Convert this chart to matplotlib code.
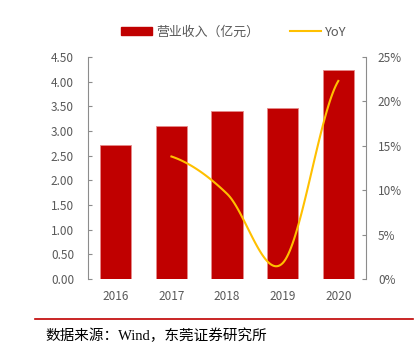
import numpy as np
import matplotlib.pyplot as plt
from matplotlib.patches import Patch
from matplotlib.lines import Line2D

plt.rcParams['font.family'] = ['Noto Sans CJK SC', 'DejaVu Sans']

years = ['2016', '2017', '2018', '2019', '2020']
revenue = [2.72, 3.10, 3.40, 3.46, 4.23]
yoy_years = ['2017', '2018', '2019', '2020']
yoy = [13.8, 9.6, 1.8, 22.3]

gray = '#595959'
axis_gray = '#8c8c8c'
red = '#C00000'
gold = '#FFC000'


def smooth(xs, ys, n=40):
    # catmull-rom style smoothing, like excel's smoothed line
    xs = np.asarray(xs, float)
    ys = np.asarray(ys, float)
    px = np.concatenate([[2 * xs[0] - xs[1]], xs, [2 * xs[-1] - xs[-2]]])
    py = np.concatenate([[ys[0]], ys, [ys[-1]]])
    ox, oy = [], []
    for i in range(1, len(px) - 2):
        t = np.linspace(0, 1, n)
        for p, out in ((px, ox), (py, oy)):
            p0, p1, p2, p3 = p[i - 1], p[i], p[i + 1], p[i + 2]
            out.extend(0.5 * (2 * p1 + (-p0 + p2) * t
                              + (2 * p0 - 5 * p1 + 4 * p2 - p3) * t ** 2
                              + (-p0 + 3 * p1 - 3 * p2 + p3) * t ** 3))
    return np.array(ox), np.array(oy)


fig = plt.figure(figsize=(4.17, 3.56), dpi=100)
ax = fig.add_axes([0.211, 0.216, 0.667, 0.624])
x = np.arange(len(years))
ax.bar(x, revenue, width=0.56, color=red, edgecolor='#e58a8a', linewidth=0.6)
ax.set_xlim(-0.5, len(years) - 0.5)
ax.set_ylim(0, 4.5)
ax.set_yticks(np.arange(0, 4.51, 0.5))
ax.set_yticklabels(['%.2f' % v for v in np.arange(0, 4.51, 0.5)])
ax.set_xticks(x)
ax.set_xticklabels(years)

ax2 = ax.twinx()
xl = np.array([years.index(y) for y in yoy_years])
sx, sy = smooth(xl, yoy)
ax2.plot(sx, sy, color=gold, lw=1.5)
ax2.set_ylim(0, 25)
ax2.set_yticks(range(0, 26, 5))
ax2.set_yticklabels(['%d%%' % v for v in range(0, 26, 5)])

for a in (ax, ax2):
    for s in ('top', 'bottom'):
        a.spines[s].set_visible(False)
    a.spines['left'].set_color(axis_gray)
    a.spines['right'].set_color(axis_gray)
    a.tick_params(axis='y', direction='in', length=3, color=axis_gray,
                  labelsize=8.5, labelcolor=gray)
ax.tick_params(axis='y', pad=10)
ax2.tick_params(axis='y', pad=8.5)
ax.spines['right'].set_visible(False)
ax2.spines['left'].set_visible(False)
ax.tick_params(axis='x', length=0, labelsize=8.5, labelcolor=gray, pad=8)

handles = [Patch(color=red), Line2D([], [], color=gold, lw=1.5)]
fig.legend(handles, ['营业收入（亿元）', 'YoY'], loc='center', bbox_to_anchor=(0.56, 0.91),
           ncol=2, frameon=False, fontsize=9.3, labelcolor=gray,
           handlelength=2.4, handleheight=0.55, handletextpad=0.3, columnspacing=2.4)

fig.add_artist(Line2D([0.085, 0.99], [0.103, 0.103], color='#c00000', lw=1.2))
fig.text(0.108, 0.058, '数据来源：Wind，东莞证券研究所', fontsize=10.5, color='black',
         family=['Liberation Serif', 'Noto Sans CJK SC'], va='center')

fig.savefig('out.png', dpi=100)
